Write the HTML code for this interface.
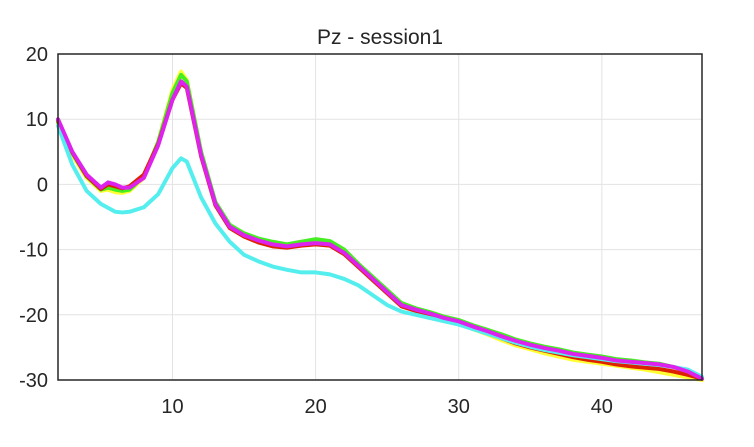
<!DOCTYPE html>
<html><head><meta charset="utf-8"><style>
body{margin:0;background:#fff;width:754px;height:442px;overflow:hidden}
text{font-family:"Liberation Sans",sans-serif;fill:#262626}
</style></head><body>
<svg width="754" height="442">
<g id="grid"></g><g id="series"></g><g id="axes"></g>
<text x="380" y="44" font-size="21" text-anchor="middle">Pz - session1</text>
</svg>
<script>
const xTicks=[10,20,30,40];
const yTicks=[20,10,0,-10,-20,-30];
const freqs=[2,3,4,5,5.5,6,6.5,7,8,9,10,10.6,11,12,13,14,15,16,17,18,19,20,21,22,23,24,25,26,27,28,29,30,31,32,33,34,35,36,37,38,39,40,41,42,43,44,45,46,47];
const magenta=[10,5,1.5,-0.5,0.3,0,-0.5,-0.5,1,6,13,15.8,15,4.5,-3,-6.5,-7.8,-8.6,-9.2,-9.5,-9.2,-9,-9.2,-10.5,-12.5,-14.5,-16.5,-18.5,-19.2,-19.8,-20.5,-21,-21.8,-22.5,-23.3,-24,-24.6,-25.1,-25.5,-26,-26.3,-26.6,-27,-27.2,-27.4,-27.6,-28,-28.7,-29.8];
const green=[9.5,4.8,1.2,-0.8,-0.5,-0.8,-1,-0.8,1.2,6.5,14,16.8,15.8,5,-2.7,-6.2,-7.5,-8.3,-8.8,-9.2,-8.8,-8.4,-8.7,-10,-12.2,-14.2,-16.2,-18.2,-19,-19.6,-20.3,-20.8,-21.6,-22.3,-23,-23.8,-24.4,-24.9,-25.3,-25.8,-26.1,-26.4,-26.8,-27,-27.3,-27.5,-28,-28.7,-29.8];
const yellow=[9,4.5,1,-1,-0.8,-1.2,-1.3,-1,1,6.5,14.5,17.3,16,4.8,-3,-6.6,-7.9,-8.7,-9.3,-9.6,-9.3,-9,-9.3,-10.6,-12.6,-14.6,-16.6,-18.6,-19.3,-20,-20.7,-21.3,-22.2,-23,-23.9,-24.7,-25.3,-25.9,-26.4,-26.9,-27.2,-27.5,-27.8,-28.1,-28.4,-28.8,-29.2,-29.6,-30];
const red=[9.8,4.9,1.3,-0.7,0,-0.3,-0.6,-0.3,1.5,6.2,13,15.5,14.8,4.3,-3.2,-6.7,-8,-8.9,-9.5,-9.7,-9.4,-9.2,-9.4,-10.7,-12.7,-14.7,-16.7,-18.7,-19.4,-20,-20.6,-21.2,-22,-22.8,-23.6,-24.4,-25,-25.5,-26,-26.5,-26.9,-27.2,-27.6,-27.9,-28.1,-28.3,-28.7,-29.2,-29.8];
const cyan=[9,3,-1,-3,-3.6,-4.2,-4.3,-4.2,-3.5,-1.5,2.5,4,3.5,-2,-6,-8.8,-10.8,-11.8,-12.6,-13.1,-13.5,-13.5,-13.8,-14.5,-15.5,-17,-18.5,-19.5,-20,-20.5,-21,-21.5,-22.2,-22.9,-23.6,-24.3,-24.9,-25.4,-25.8,-26.2,-26.5,-26.8,-27.1,-27.3,-27.5,-27.7,-28,-28.4,-29.5];
const X=v=>58+(v-2)*(644/45), Y=v=>54+(20-v)*(326/50);
const NS="http://www.w3.org/2000/svg";
function mk(tag,attrs,parent){const e=document.createElementNS(NS,tag);for(const k in attrs)e.setAttribute(k,attrs[k]);parent.appendChild(e);return e;}
const grid=document.getElementById('grid'),axes=document.getElementById('axes'),ser=document.getElementById('series');
xTicks.forEach(t=>{
 const l=mk('line',{x1:X(t),x2:X(t),y1:54,y2:380,stroke:'#e3e3e3','stroke-width':1},grid);
 
 
 const tk=mk('text',{x:X(t),y:413,'font-size':20,'text-anchor':'middle'},axes);tk.textContent=t;
 
 
});
yTicks.forEach(t=>{
 const l=mk('line',{x1:58,x2:702,y1:Y(t),y2:Y(t),stroke:'#e3e3e3','stroke-width':1},grid);
 
 
 const tk=mk('text',{x:48,y:Y(t)+7,'font-size':20,'text-anchor':'end'},axes);tk.textContent=t;
 
 
});
const box=mk('rect',{x:58,y:54,width:644,height:326,fill:'none',stroke:'#262626','stroke-width':1.5},axes);


[[yellow,'#ffff33','series-yellow'],[green,'#44ee22','series-green'],[red,'#dd2200','series-red'],[cyan,'#55eeee','series-cyan'],[magenta,'#dd22ee','series-magenta']].forEach(([d,c,n])=>{
 const p=mk('polyline',{points:freqs.map((f,i)=>X(f)+','+Y(d[i])).join(' '),fill:'none',stroke:c,'stroke-width':4,'stroke-linejoin':'round','stroke-linecap':'round'},ser);
 
 
});
</script>
</body></html>
